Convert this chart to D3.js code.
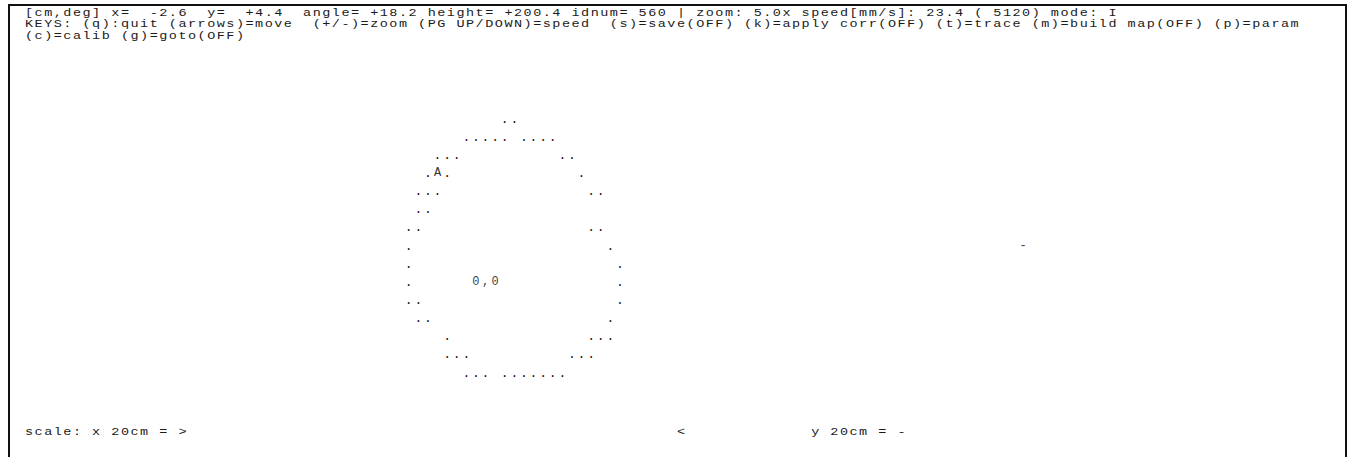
<!DOCTYPE html>
<html>
<head>
<meta charset="utf-8">
<script src="https://cdn.jsdelivr.net/npm/d3@7"></script>
<style>
  html, body { margin: 0; padding: 0; background: #fff; }
  svg { display: block; }
  text { font-family: "Courier New", "Liberation Mono", monospace; white-space: pre; }
</style>
</head>
<body>
<script>
const headerLines = [
  "[cm,deg] x=  -2.6  y=  +4.4  angle= +18.2 height= +200.4 idnum= 560 | zoom: 5.0x speed[mm/s]: 23.4 ( 5120) mode: I",
  "KEYS: (q):quit (arrows)=move  (+/-)=zoom (PG UP/DOWN)=speed  (s)=save(OFF) (k)=apply corr(OFF) (t)=trace (m)=build map(OFF) (p)=param",
  "(c)=calib (g)=goto(OFF)"
];
const footerLine = "scale: x 20cm = >                                                   <             y 20cm = -";

// ASCII map rows (one character per grid cell)
const mapRows = [
  "          ..",
  "      ..... ....",
  "   ...          ..",
  "  .A.             .",
  " ...               ..",
  " ..",
  "..                 ..",
  ".                    .",
  ".                     .",
  ".      0,0            .",
  "..                    .",
  " ..                  .",
  "    .              ...",
  "    ...          ...",
  "      ... ......."
];
// isolated marks far from the map: [row, col, char]
const farMarks = [[7, 64, "-"]];

// ---- layout ----
const W = 1351, H = 457;
const svg = d3.select("body").append("svg").attr("width", W).attr("height", H);

const charW = 9.6;
const hdrSize = 10;
const hdrStretch = 1.35;                // horizontal stretch of header glyphs
const hdrSpacing = charW / hdrStretch - hdrSize * 0.6;
const cellSize = 13;

// frame
svg.append("rect")
  .attr("x", 9).attr("y", 5).attr("width", 1337).attr("height", 470)
  .attr("fill", "none").attr("stroke", "#111").attr("stroke-width", 2);

// header text lines
const lineY = d3.scaleLinear().domain([0, 1]).range([16, 27.5]);
const hdrG = svg.append("g").attr("transform", `translate(25,0) scale(${hdrStretch},1)`);
hdrG.selectAll("text.hdr").data(headerLines).join("text")
  .attr("class", "hdr")
  .attr("x", 0).attr("y", (d, i) => lineY(i))
  .attr("font-size", hdrSize).attr("letter-spacing", hdrSpacing).attr("fill", "#1a1a1a")
  .text(d => d);

svg.append("g").attr("transform", `translate(25,0) scale(${hdrStretch},1)`)
  .append("text")
  .attr("x", 0).attr("y", 435)
  .attr("font-size", hdrSize).attr("letter-spacing", hdrSpacing).attr("fill", "#1a1a1a")
  .text(footerLine);

// map grid scales
const xCol = d3.scaleLinear().domain([0, 1]).range([408.7, 408.7 + charW]);
const yRow = d3.scaleLinear().domain([0, mapRows.length - 1]).range([119, 373]);

const cells = [];
mapRows.forEach((row, r) => {
  [...row].forEach((ch, c) => { if (ch !== " ") cells.push({ r, c, ch }); });
});
farMarks.forEach(([r, c, ch]) => cells.push({ r, c, ch }));

svg.selectAll("text.cell").data(cells).join("text")
  .attr("class", "cell")
  .attr("x", d => xCol(d.c)).attr("y", d => yRow(d.r))
  .attr("text-anchor", "middle")
  .attr("dominant-baseline", "central")
  .attr("font-size", d => d.ch === "." ? cellSize : 12)
  .attr("fill", d => d.ch === "." ? "#111" : (d.ch === "A" ? "#333" : "#444"))
  .text(d => d.ch);
</script>
</body>
</html>
